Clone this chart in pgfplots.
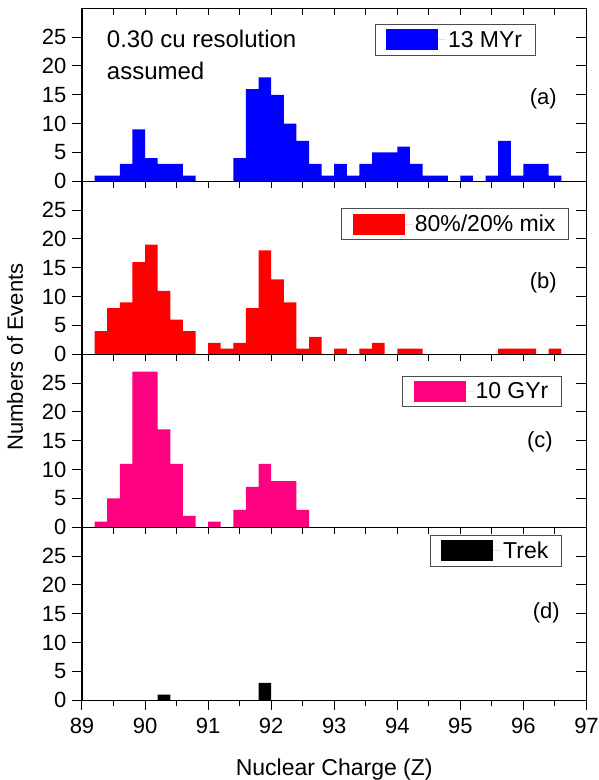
\documentclass[border=0pt]{standalone}
\usepackage{fontspec}
\setmainfont{Liberation Sans}
\usepackage{pgfplots}
\pgfplotsset{compat=1.18}
\definecolor{cblue}{RGB}{0,0,255}
\definecolor{cred}{RGB}{255,0,0}
\definecolor{cpink}{RGB}{255,0,128}

\pgfplotsset{
  panel/.style={
    width=504.5pt, height=173pt, scale only axis,
    xmin=89, xmax=97, ymin=0, ymax=30,
    axis line style={line width=1.1pt, black},
    anchor=south west,
  },
  mainax/.style={panel,
    ybar, bar width=0.2, bar shift=0pt,
    tick align=outside, ytick={0,5,...,25}, ytick pos=left,
    major tick length=10pt, minor tick length=5.7pt,
    tick style={line width=1pt, black},
    xtick pos=left,
    /pgf/number format/assume math mode=true,
    ticklabel style={font=\fontsize{22}{24}\selectfont},
    yticklabel style={xshift=-2pt},
    xticklabel style={yshift=-4pt},
    legend image code/.code={\path (0pt,0pt) -- (60pt,0pt);\fill[##1] (0pt,-10.5pt) rectangle (52pt,10.5pt);},
    legend style={draw=black!70, line width=0.8pt, font=\fontsize{23}{25}\selectfont,
      inner xsep=11pt, inner ysep=4.5pt, anchor=north east, cells={anchor=west}},
  },
  topax/.style={panel, tick align=inside, xtick={89,89.5,...,97}, xtick pos=right,
    ytick=\empty, major tick length=6.7pt, tick style={line width=1pt,black}, xticklabels={}},
  rightax/.style={panel, tick align=inside, ytick={0,5,...,25}, ytick pos=right,
    xtick=\empty, major tick length=10.5pt, tick style={line width=1pt,black}, yticklabels={}},
}

\begin{document}
\begin{tikzpicture}
\useasboundingbox (0,0) rectangle (598pt,780pt);

% ---------- panel (a) ----------
\begin{axis}[mainax, at={(82pt,598.7pt)}, xtick=\empty,
  legend style={at={(rel axis cs:0.899,0.9075)}}]
\addplot[fill=cblue, draw=none] coordinates {
 (89.3,1) (89.5,1) (89.7,3) (89.9,9) (90.1,4) (90.3,3) (90.5,3) (90.7,1)
 (91.5,4) (91.7,16) (91.9,18) (92.1,15) (92.3,10) (92.5,7) (92.7,3) (92.9,1)
 (93.1,3) (93.3,1) (93.5,3) (93.7,5) (93.9,5) (94.1,6) (94.3,3) (94.5,1) (94.7,1)
 (95.1,1) (95.5,1) (95.7,7) (95.9,1) (96.1,3) (96.3,3) (96.5,1)};
\addlegendentry{13 MYr}
\node[anchor=north west, align=left, inner sep=0pt, font=\fontsize{24}{31.6}\selectfont]
  at (rel axis cs:0.049,0.8746) {0.30 cu resolution\\assumed};
\node[anchor=east, inner sep=0pt, font=\fontsize{22}{24}\selectfont] at (rel axis cs:0.9415,0.476) {(a)};
\end{axis}
\begin{axis}[topax, at={(82pt,598.7pt)}]\end{axis}
\begin{axis}[rightax, at={(82pt,598.7pt)}]\end{axis}

% ---------- panel (b) ----------
\begin{axis}[mainax, at={(82pt,425.7pt)}, xtick=\empty,
  legend style={at={(rel axis cs:0.965,0.844)}},
  ylabel={Numbers of Events},
  ylabel style={at={(rel axis cs:-0.117,-0.0156)}, anchor=base, font=\fontsize{22}{24}\selectfont}]
\addplot[fill=cred, draw=none] coordinates {
 (89.3,4) (89.5,8) (89.7,9) (89.9,16) (90.1,19) (90.3,11) (90.5,6) (90.7,4)
 (91.1,2) (91.3,1) (91.5,2) (91.7,8) (91.9,18) (92.1,13) (92.3,9) (92.5,1) (92.7,3)
 (93.1,1) (93.5,1) (93.7,2) (94.1,1) (94.3,1)
 (95.7,1) (95.9,1) (96.1,1) (96.5,1)};
\addlegendentry{80\%/20\% mix}
\node[anchor=east, inner sep=0pt, font=\fontsize{22}{24}\selectfont] at (rel axis cs:0.9415,0.412) {(b)};
\end{axis}
\begin{axis}[topax, at={(82pt,425.7pt)}]\end{axis}
\begin{axis}[rightax, at={(82pt,425.7pt)}]\end{axis}

% ---------- panel (c) ----------
\begin{axis}[mainax, at={(82pt,252.7pt)}, xtick=\empty,
  legend style={at={(rel axis cs:0.951,0.876)}}]
\addplot[fill=cpink, draw=none] coordinates {
 (89.3,1) (89.5,5) (89.7,11) (89.9,27) (90.1,27) (90.3,17) (90.5,11) (90.7,2)
 (91.1,1) (91.5,3) (91.7,7) (91.9,11) (92.1,8) (92.3,8) (92.5,3)};
\addlegendentry{10 GYr}
\node[anchor=east, inner sep=0pt, font=\fontsize{22}{24}\selectfont] at (rel axis cs:0.9336,0.495) {(c)};
\end{axis}
\begin{axis}[topax, at={(82pt,252.7pt)}]\end{axis}
\begin{axis}[rightax, at={(82pt,252.7pt)}]\end{axis}

% ---------- panel (d) ----------
\begin{axis}[mainax, at={(82pt,79.7pt)}, xtick={89,90,...,97}, minor x tick num=1,
  legend style={at={(rel axis cs:0.951,0.9555)}},
  xlabel={Nuclear Charge (Z)},
  xlabel style={at={(rel axis cs:0.5,-0.4335)}, anchor=base, font=\fontsize{23}{25}\selectfont}]
\addplot[fill=black, draw=none] coordinates {(90.3,1) (91.9,3)};
\addlegendentry{Trek}
\node[anchor=east, inner sep=0pt, font=\fontsize{22}{24}\selectfont] at (rel axis cs:0.9475,0.505) {(d)};
\end{axis}
\begin{axis}[topax, at={(82pt,79.7pt)}]\end{axis}
\begin{axis}[rightax, at={(82pt,79.7pt)}]\end{axis}
\end{tikzpicture}
\end{document}
